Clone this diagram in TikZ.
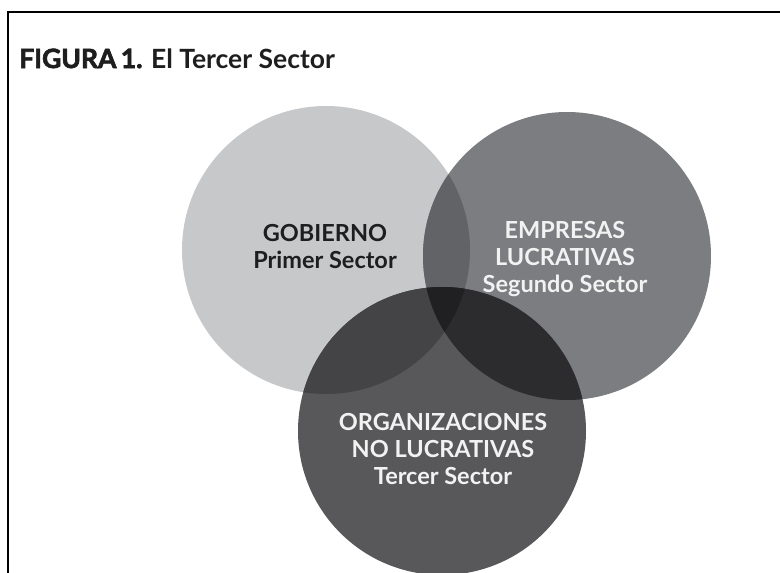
\documentclass[tikz,border=0pt]{standalone}
\usepackage{fontspec}
\setmainfont{Lato}
\newfontfamily\latoheavy{Lato}[FakeBold=2.5]
\definecolor{cA}{HTML}{C7C8CA}
\definecolor{cB}{HTML}{7C7D80}
\definecolor{cC}{HTML}{58585A}
\definecolor{cAB}{HTML}{626366}
\definecolor{cAC}{HTML}{444446}
\definecolor{cBC}{HTML}{2C2C2E}
\definecolor{cABC}{HTML}{202022}
\definecolor{darktxt}{HTML}{1E1E1E}
\definecolor{lighttxt}{HTML}{F2F2F2}
\tikzset{
  lbl/.style={align=center, inner sep=0pt, font=\fontsize{23.5}{27}\selectfont\bfseries},
  frameline/.style={line width=2pt, black}
}
\begin{document}
\begin{tikzpicture}[x=1pt,y=-1pt]
\useasboundingbox (0,0) rectangle (780,573);
\clip (0,0) rectangle (780,573);
\fill[white] (0,0) rectangle (780,573);
\coordinate (A) at (326,250);
\coordinate (B) at (567,256);
\coordinate (C) at (442,431);
\def\rr{144}
% circles
\fill[cA] (A) circle (\rr);
\fill[cB] (B) circle (\rr);
\fill[cC] (C) circle (\rr);
% pairwise overlaps
\begin{scope}
  \clip (A) circle (\rr);
  \fill[cAB] (B) circle (\rr);
  \fill[cAC] (C) circle (\rr);
\end{scope}
\begin{scope}
  \clip (B) circle (\rr);
  \fill[cBC] (C) circle (\rr);
\end{scope}
\begin{scope}
  \clip (A) circle (\rr);
  \clip (B) circle (\rr);
  \fill[cABC] (C) circle (\rr);
\end{scope}
% frame
\coordinate (fb) at (7.5,575);
\coordinate (fc) at (7.5,12);
\coordinate (fr) at (782,12);
\draw[frameline] (fb) -- (fc) -- (fr);
% title
\node[anchor=base west, inner sep=0pt, text=darktxt, font=\fontsize{26.5}{30}\selectfont\bfseries] (title) at (19,68)
  {{\latoheavy FIGURA\,1.} El Tercer Sector};
% labels
\node[lbl, text=darktxt] (gob) at (325,247) {GOBIERNO\\Primer Sector};
\node[lbl, text=lighttxt] (emp) at (565,259) {EMPRESAS\\LUCRATIVAS\\Segundo Sector};
\node[lbl, text=lighttxt] (org) at (443,449) {ORGANIZACIONES\\NO LUCRATIVAS\\Tercer Sector};
\end{tikzpicture}
\end{document}
